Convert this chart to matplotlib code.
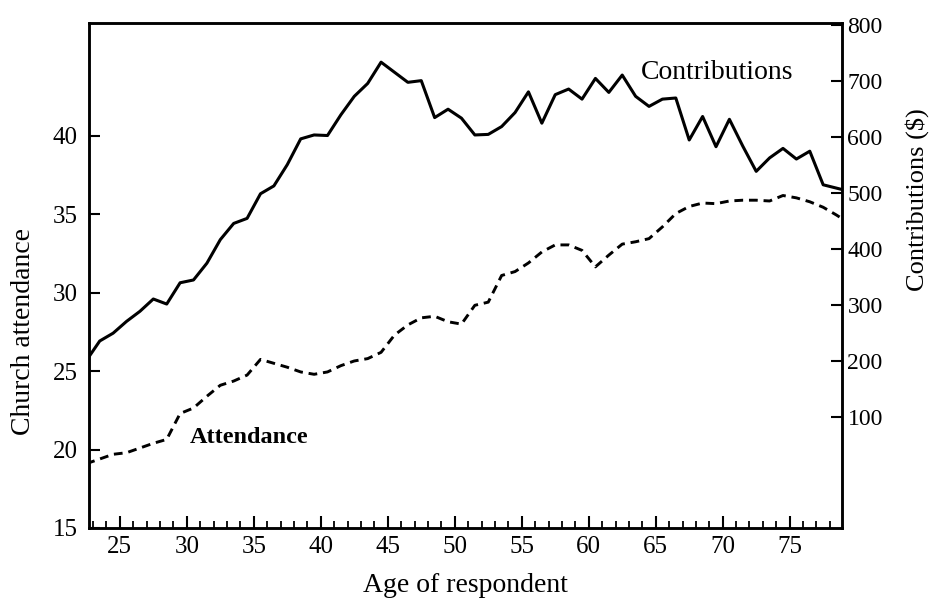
import numpy as np
import matplotlib.pyplot as plt
from matplotlib.ticker import MultipleLocator

plt.rcParams['font.family'] = ['Liberation Serif', 'DejaVu Serif']

# ages (half-year positions as drawn in the original)
ages = [22.5, 23.5, 24.5, 25.5, 26.5, 27.5, 28.5, 29.5, 30.5, 31.5,
        32.5, 33.5, 34.5, 35.5, 36.5, 37.5, 38.5, 39.5, 40.5, 41.5,
        42.5, 43.5, 44.5, 45.5, 46.5, 47.5, 48.5, 49.5, 50.5, 51.5,
        52.5, 53.5, 54.5, 55.5, 56.5, 57.5, 58.5, 59.5, 60.5, 61.5,
        62.5, 63.5, 64.5, 65.5, 66.5, 67.5, 68.5, 69.5, 70.5, 71.5,
        72.5, 73.5, 74.5, 75.5, 76.5, 77.5, 78.5, 79.5]

contributions = [200, 235, 249, 270, 288, 310, 301, 339, 344, 374,
                 416, 445, 454, 498, 512, 550, 596, 603, 602, 639,
                 672, 695, 733, 715, 697, 700, 634, 649, 633, 603,
                 604, 618, 643, 680, 624, 675, 685, 667, 704, 679,
                 710, 672, 654, 667, 669, 594, 636, 582, 631, 583,
                 538, 562, 579, 560, 574, 514, 508, 502]

attendance = [19.1, 19.4, 19.7, 19.8, 20.1, 20.4, 20.65, 22.3, 22.65, 23.4,
              24.1, 24.37, 24.75, 25.75, 25.5, 25.25, 24.95, 24.8, 24.95, 25.35,
              25.65, 25.8, 26.2, 27.3, 27.95, 28.4, 28.5, 28.15, 28.0, 29.2,
              29.4, 31.1, 31.35, 31.9, 32.6, 33.05, 33.05, 32.7, 31.65, 32.4,
              33.1, 33.25, 33.45, 34.2, 35.05, 35.5, 35.72, 35.68, 35.85, 35.9,
              35.9, 35.85, 36.2, 36.05, 35.8, 35.45, 34.95, 34.4]

left_ticks = [15, 20, 25, 30, 35, 40]
right_ticks = [100, 200, 300, 400, 500, 600, 700, 800]
age_ticks = [25, 30, 35, 40, 45, 50, 55, 60, 65, 70, 75]

fig = plt.figure(figsize=(9.33, 6.0), dpi=100)
ax = fig.add_axes([0.0954, 0.12, 0.807, 0.8417])
ax2 = ax.twinx()

ax.plot(ages, attendance, color='black', linewidth=2.1, linestyle=(0, (3, 2)))
ax2.plot(ages, contributions, color='black', linewidth=2.2)

ax.set_xlim(22.7, 78.9)
ax.set_ylim(15, 47.2)
ax2.set_ylim(-99, 803)

ax.set_xticks(age_ticks)
ax.xaxis.set_minor_locator(MultipleLocator(1))
ax.set_yticks(left_ticks)
ax2.set_yticks(right_ticks)

ax.tick_params(axis='x', which='major', direction='in', length=9, width=1.5,
               labelsize=18, pad=6)
ax.tick_params(axis='x', which='minor', direction='in', length=5, width=1.3)
ax.tick_params(axis='y', direction='in', length=8, width=1.5, labelsize=18, pad=8)
ax2.tick_params(axis='y', direction='in', length=8, width=1.5, labelsize=17, pad=4)

for sp in ax.spines.values():
    sp.set_linewidth(1.8)
for sp in ax2.spines.values():
    sp.set_linewidth(1.8)

ax.set_xlabel('Age of respondent', fontsize=20)
ax.xaxis.set_label_coords(0.5, -0.09)
ax.set_ylabel('Church attendance', fontsize=20)
ax.yaxis.set_label_coords(-0.070, 0.39)
ax2.set_ylabel('Contributions ($)', fontsize=19)
ax2.yaxis.set_label_coords(1.084, 0.65)

ax2.text(63.9, 714, 'Contributions', fontsize=20, va='center', ha='left')
ax.text(30.24, 20.8, 'Attendance', fontsize=17.5, fontweight='bold',
        va='center', ha='left')

fig.savefig('out.png', dpi=100)
